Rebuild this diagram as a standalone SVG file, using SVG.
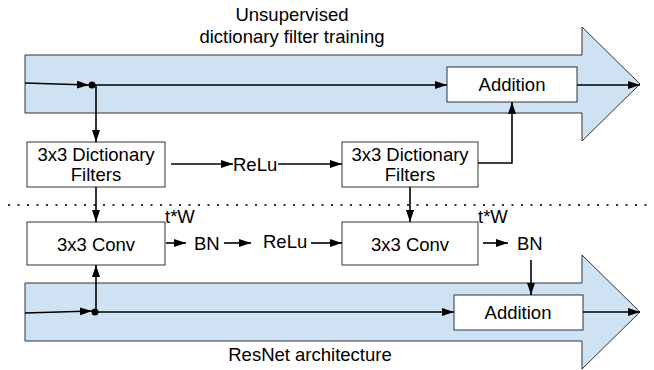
<svg xmlns="http://www.w3.org/2000/svg" width="654" height="370" viewBox="0 0 654 370">
<style>
text{font-family:"Liberation Sans",Arial,sans-serif;font-size:18.5px;fill:#000}
.band{fill:#cfe2f3;stroke:#333;stroke-width:1}
.box{fill:#fff;stroke:#333;stroke-width:1}
.c{fill:none;stroke:#000;stroke-width:1.6}
.a{marker-end:url(#ah)}
.m{text-anchor:middle}
</style>
<defs>
<marker id="ah" markerUnits="userSpaceOnUse" markerWidth="13" markerHeight="9" refX="12" refY="4" orient="auto">
<path d="M0,0 L12,4 L0,8 Z" fill="#000"/>
</marker>
</defs>
<rect width="654" height="370" fill="#fff"/>
<g id="band-top">
<path class="band" d="M25,55 H582 V27 L640,84 L582,141 V113 H25 Z"/>
<text class="m" x="292" y="21">Unsupervised</text>
<text class="m" x="292" y="43">dictionary filter training</text>
</g>
<g id="band-bottom">
<path class="band" d="M25,283 H582 V255 L640,312 L582,369 V341 H25 Z"/>
<text class="m" x="310" y="361">ResNet architecture</text>
</g>
<line x1="8" y1="205" x2="654" y2="205" stroke="#333" stroke-width="2" stroke-dasharray="2,7.5"/>
<g id="add-top"><rect class="box" x="447" y="67" width="130" height="35"/><text class="m" x="512" y="91">Addition</text></g>
<g id="dict1"><rect class="box" x="27" y="142" width="138" height="45"/><text class="m" x="96" y="161">3x3 Dictionary</text><text class="m" x="96" y="181">Filters</text></g>
<g id="dict2"><rect class="box" x="342" y="142" width="136" height="45"/><text class="m" x="410" y="161">3x3 Dictionary</text><text class="m" x="410" y="181">Filters</text></g>
<g id="relu-top"><text x="233" y="171">ReLu</text></g>
<g id="conv1"><rect class="box" x="27" y="222" width="138" height="43"/><text class="m" x="96" y="251">3x3 Conv</text></g>
<g id="conv2"><rect class="box" x="342" y="222" width="136" height="43"/><text class="m" x="410" y="251">3x3 Conv</text></g>
<g id="tw1"><text x="165" y="223">t*W</text></g>
<g id="tw2"><text x="478" y="223">t*W</text></g>
<g id="bn1"><text x="194" y="250">BN</text></g>
<g id="relu-bot"><text x="263" y="248">ReLu</text></g>
<g id="bn2"><text x="517" y="250">BN</text></g>
<g id="add-bot"><rect class="box" x="454" y="295" width="129" height="35"/><text class="m" x="518" y="319">Addition</text></g>
<g id="connectors">
<path class="c a" d="M25,83 L89,85"/>
<circle cx="92" cy="85" r="3.5" fill="#000"/>
<path class="c a" d="M95,85 H447"/>
<path class="c a" d="M577,85 H640"/>
<path class="c a" d="M96,85 V142"/>
<path class="c a" d="M171,164 H233"/>
<path class="c a" d="M278,164 H342"/>
<path class="c a" d="M478,163 H512 V102"/>
<path class="c a" d="M96,187 V222"/>
<path class="c a" d="M410,187 V222"/>
<path class="c a" d="M166,243 H186"/>
<path class="c a" d="M224,243 H251"/>
<path class="c a" d="M311,243 H342"/>
<path class="c a" d="M483,243 H508"/>
<path class="c a" d="M531,260 V295"/>
<path class="c a" d="M25,313 L92,311"/>
<circle cx="95" cy="312" r="3.5" fill="#000"/>
<path class="c a" d="M97,312 H454"/>
<path class="c a" d="M583,312 H640"/>
<path class="c a" d="M96,312 V265"/>
</g>
</svg>
